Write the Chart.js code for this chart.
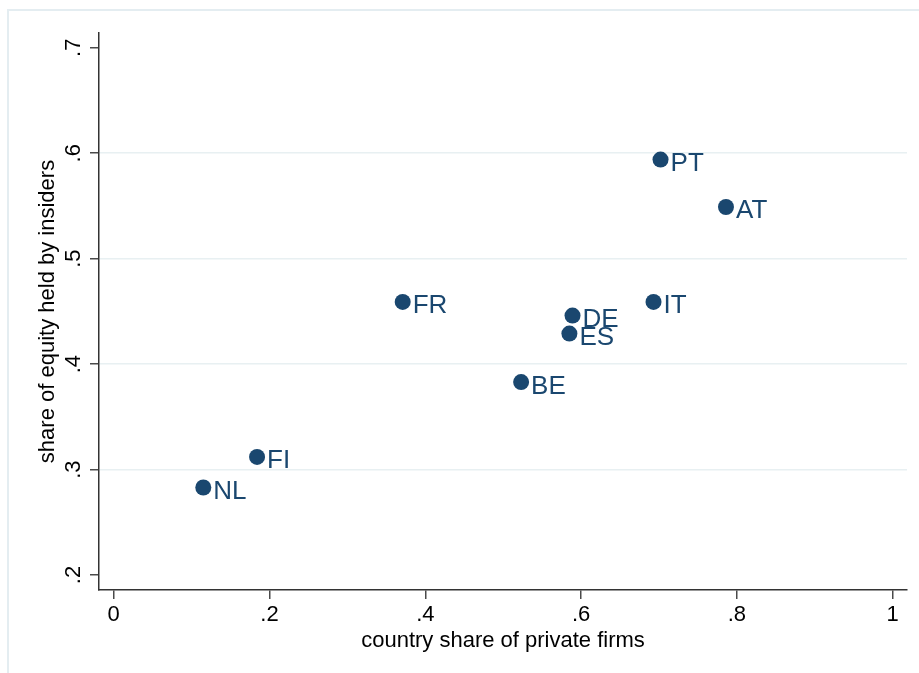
<!DOCTYPE html>
<html>
<head>
<meta charset="utf-8">
<script src="https://cdn.jsdelivr.net/npm/chart.js@4"></script>
<style>
  html, body { margin: 0; padding: 0; background: #ffffff; }
  #wrap { width: 919px; height: 673px; position: relative; }
</style>
</head>
<body>
<div id="wrap"><canvas id="c" width="919" height="673"></canvas></div>
<script>
// ---- data ----
const countries     = ['NL', 'FI', 'FR', 'BE', 'ES', 'DE', 'IT', 'PT', 'AT'];
const privateShare  = [0.115, 0.184, 0.371, 0.523, 0.585, 0.589, 0.693, 0.702, 0.786];
const insiderShare  = [0.283, 0.312, 0.459, 0.383, 0.429, 0.446, 0.459, 0.594, 0.549];
const xTicks        = [0, 0.2, 0.4, 0.6, 0.8, 1];
const xTickLabels   = ['0', '.2', '.4', '.6', '.8', '1'];
const yTicks        = [0.2, 0.3, 0.4, 0.5, 0.6, 0.7];
const yTickLabels   = ['.2', '.3', '.4', '.5', '.6', '.7'];
const xTitle = 'country share of private firms';
const yTitle = 'share of equity held by insiders';

const NAVY = '#1a476f';
const FONT = '"Liberation Sans", Arial, Helvetica, sans-serif';

const points = privateShare.map((x, i) => ({ x: x, y: insiderShare[i] }));

const textPlugin = {
  id: 'stataText',
  beforeDraw(chart) {
    const ctx = chart.ctx;
    ctx.save();
    ctx.fillStyle = '#ffffff';
    ctx.fillRect(0, 0, chart.width, chart.height);
    // outer graph frame (partially visible)
    ctx.strokeStyle = '#e4edf1';
    ctx.lineWidth = 2;
    ctx.beginPath();
    ctx.moveTo(8, chart.height);
    ctx.lineTo(8, 10);
    ctx.lineTo(chart.width, 10);
    ctx.stroke();
    ctx.restore();
  },
  afterDraw(chart) {
    const ctx = chart.ctx;
    const xs = chart.scales.x, ys = chart.scales.y;
    const area = chart.chartArea;
    ctx.save();
    ctx.fillStyle = '#000000';
    ctx.font = '22px ' + FONT;
    // x tick labels
    ctx.textAlign = 'center';
    ctx.textBaseline = 'middle';
    xTicks.forEach((v, i) => {
      ctx.fillText(xTickLabels[i], xs.getPixelForValue(v), 615);
    });
    // y tick labels (rotated)
    yTicks.forEach((v, i) => {
      ctx.save();
      ctx.translate(74, ys.getPixelForValue(v));
      ctx.rotate(-Math.PI / 2);
      ctx.fillText(yTickLabels[i], 0, 0);
      ctx.restore();
    });
    // axis titles
    ctx.fillText(xTitle, (area.left + area.right) / 2, 641);
    ctx.save();
    ctx.translate(48, (area.top + area.bottom) / 2);
    ctx.rotate(-Math.PI / 2);
    ctx.fillText(yTitle, 0, 0);
    ctx.restore();
    // marker labels
    ctx.fillStyle = NAVY;
    ctx.font = '26px ' + FONT;
    ctx.textAlign = 'left';
    ctx.textBaseline = 'alphabetic';
    const meta = chart.getDatasetMeta(0);
    meta.data.forEach((el, i) => {
      ctx.fillText(countries[i], el.x + 10, el.y + 11.5);
    });
    ctx.restore();
  }
};

new Chart(document.getElementById('c'), {
  type: 'scatter',
  data: {
    datasets: [{
      data: points,
      backgroundColor: NAVY,
      borderColor: NAVY,
      borderWidth: 0,
      pointRadius: 8,
      pointHoverRadius: 8
    }]
  },
  options: {
    responsive: false,
    animation: false,
    devicePixelRatio: 1,
    layout: { padding: { left: 90, right: 12, top: 33, bottom: 74 } },
    plugins: { legend: { display: false }, tooltip: { enabled: false } },
    scales: {
      x: {
        type: 'linear',
        min: -0.0189,
        max: 1.0184,
        afterBuildTicks: (s) => { s.ticks = xTicks.map(v => ({ value: v })); },
        ticks: { display: false },
        grid: {
          drawOnChartArea: false,
          drawTicks: true,
          tickLength: 9,
          tickColor: '#4a4a4a',
          lineWidth: 1.5,
          tickWidth: 1.5
        },
        border: { display: true, color: '#333333', width: 1.5 }
      },
      y: {
        type: 'linear',
        min: 0.1858,
        max: 0.714,
        afterBuildTicks: (s) => { s.ticks = yTicks.map(v => ({ value: v })); },
        ticks: { display: false },
        grid: {
          drawOnChartArea: true,
          drawTicks: true,
          tickLength: 9,
          color: (c) => {
            const v = c.tick ? c.tick.value : null;
            if (v === null) return 'rgba(0,0,0,0)';
            if (Math.abs(v - 0.2) < 1e-9 || Math.abs(v - 0.7) < 1e-9) return 'rgba(0,0,0,0)';
            return '#e8f0f2';
          },
          tickColor: '#4a4a4a',
          lineWidth: 1.5,
          tickWidth: 1.5
        },
        border: { display: true, color: '#333333', width: 1.5 }
      }
    }
  },
  plugins: [textPlugin]
});
</script>
</body>
</html>
